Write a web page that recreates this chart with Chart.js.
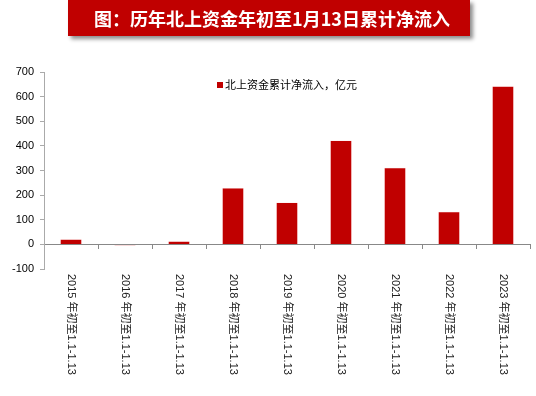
<!DOCTYPE html>
<html>
<head>
<meta charset="utf-8">
<script src="https://cdn.jsdelivr.net/npm/chart.js@4"></script>
<style>
  body { margin: 0; background: #fff; }
  #wrap { position: relative; width: 536px; height: 396px; }
  #title {
    position: absolute; left: 68px; top: 0; width: 402px; height: 36px;
    background: #C00000; color: #fff; box-shadow: 3px 3px 4px rgba(0,0,0,0.45);
    font: bold 18px "Noto Sans CJK SC", sans-serif; line-height: 36px; text-align: center;
    padding-left: 6px; box-sizing: border-box;
  }
</style>
</head>
<body>
<div id="wrap">
  <div id="title">图：历年北上资金年初至1月13日累计净流入</div>
  <canvas id="chart" width="536" height="396"></canvas>
</div>
<script>
const years = ['2015', '2016', '2017', '2018', '2019', '2020', '2021', '2022', '2023'];
const labelSuffix = ' 年初至1.1-1.13';
const inflow = [21, -5, 13, 229, 170, 422, 311, 132, 642];
const seriesName = '北上资金累计净流入，亿元';
const yTicks = [-100, 0, 100, 200, 300, 400, 500, 600, 700];

const red = '#C00000';
const font = '"Liberation Sans", Arial, sans-serif';

const extras = {
  id: 'extras',
  afterDraw(chart) {
    const c = chart.ctx;
    const xs = chart.scales.x;
    const area = chart.chartArea;
    c.save();
    // rotated category labels, read top to bottom
    c.fillStyle = '#222';
    c.font = '11px ' + font + ', "Noto Sans CJK SC"';
    c.textAlign = 'left';
    c.textBaseline = 'middle';
    chart.data.labels.forEach((lab, i) => {
      const x = xs.getPixelForTick(i);
      c.save();
      c.translate(x, area.bottom + 5);
      c.rotate(Math.PI / 2);
      c.fillText(lab, 0, 0);
      c.restore();
    });
    // legend
    c.fillStyle = red;
    c.fillRect(217, 82, 6, 6);
    c.fillStyle = '#000';
    c.font = '11px "Noto Sans CJK SC", ' + font;
    c.fillText(seriesName, 225, 85);
    c.restore();
  }
};

new Chart(document.getElementById('chart'), {
  type: 'bar',
  data: {
    labels: years.map(y => y + labelSuffix),
    datasets: [{
      label: seriesName,
      data: inflow,
      backgroundColor: red,
      borderColor: 'rgba(255,200,200,0.8)',
      borderWidth: 0.5,
      barPercentage: 0.4,
      categoryPercentage: 1
    }]
  },
  options: {
    responsive: false,
    animation: false,
    layout: { padding: { top: 72, right: 6, bottom: 127, left: 0 } },
    plugins: { legend: { display: false }, tooltip: { enabled: false } },
    scales: {
      x: {
        position: { y: 0 },
        offset: true,
        ticks: { display: false },
        grid: { offset: true, drawOnChartArea: false, tickLength: 4, color: '#888' },
        border: { color: '#888', width: 1 }
      },
      y: {
        min: yTicks[0],
        max: yTicks[yTicks.length - 1],
        afterBuildTicks: s => { s.ticks = yTicks.map(v => ({ value: v })); },
        afterFit: s => { s.width = 44; },
        ticks: { color: '#000', font: { family: font, size: 11 }, padding: 6 },
        grid: { drawOnChartArea: false, tickLength: 4, color: '#aaa' },
        border: { color: '#aaa', width: 1 }
      }
    }
  },
  plugins: [extras]
});
</script>
</body>
</html>
